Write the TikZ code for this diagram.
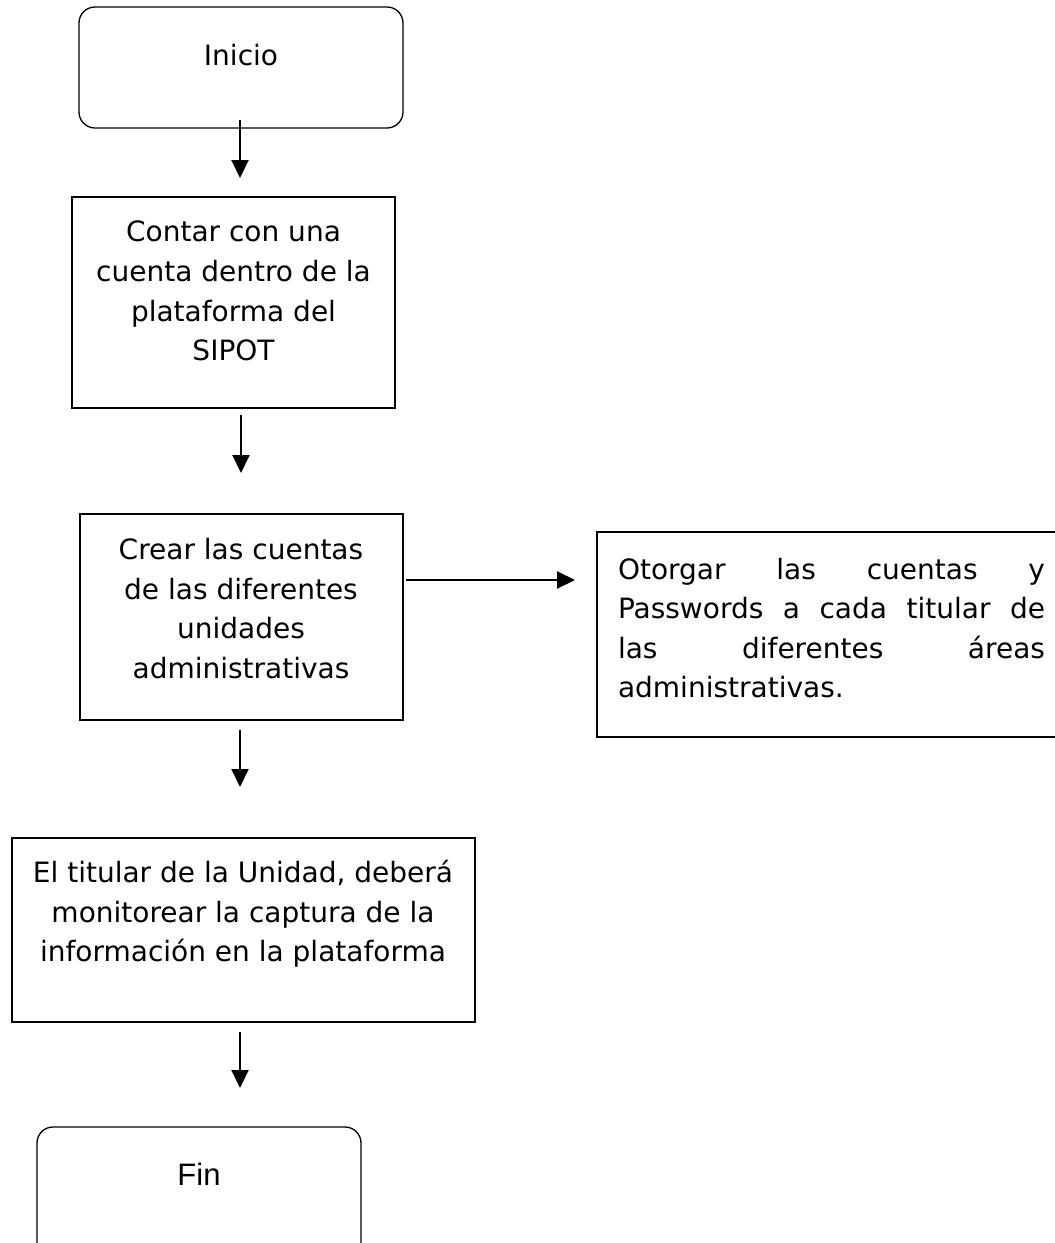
\documentclass[tikz,border=0pt]{standalone}
\usepackage{fontspec}
\setmainfont{DejaVu Sans}
\newfontfamily\arialfont{Liberation Sans}
\usetikzlibrary{arrows.meta}
\tikzset{
  box/.style={draw=black, line width=1.3pt, inner sep=0pt, outer sep=0pt, anchor=north west},
  roundbox/.style={box, rounded corners=16pt},
  txt/.style={inner sep=0pt, outer sep=0pt, align=center, font=\fontsize{28}{39.6}\selectfont},
  arr/.style={line width=2pt, -{Triangle[width=17pt,length=18pt]}}
}
\begin{document}
\begin{tikzpicture}[x=1pt,y=-1pt]
\useasboundingbox (0,0) rectangle (1055,1243);
% boxes
\node[roundbox, minimum width=324pt, minimum height=121pt] (b1) at (79,7) {};
\node[box, minimum width=323pt, minimum height=211pt] (b2) at (72,197) {};
\node[box, minimum width=323pt, minimum height=206pt] (b3) at (80,514) {};
\node[box, minimum width=470pt, minimum height=205pt] (b4) at (597,532) {};
\node[box, minimum width=463pt, minimum height=184pt] (b5) at (12,838) {};
\node[roundbox, minimum width=324pt, minimum height=135pt] (b6) at (37,1127) {};
% texts
\node[txt, anchor=base] (t1) at (241,65) {Inicio};
\node[txt] (t2) at (233.5,291) {Contar con una\\cuenta dentro de la\\plataforma del\\SIPOT};
\node[txt] (t3) at (241,608.5) {Crear las cuentas\\de las diferentes\\unidades\\administrativas};
\node[txt, align=left, anchor=west] (t4) at (618,628) {\makebox[427pt][s]{Otorgar las cuentas y}\\\makebox[427pt][s]{Passwords a cada titular de}\\\makebox[427pt][s]{las diferentes áreas}\\administrativas.};
\node[txt] (t5) at (243,914) {El titular de la Unidad, deberá\\monitorear la captura de la\\información en la plataforma};
\node[txt, anchor=base, font=\arialfont\fontsize{31}{36}\selectfont] (t6) at (199,1185) {Fin};
% connector ends
\coordinate (a1s) at (240,120); \coordinate (a1e) at (240,178);
\coordinate (a2s) at (241,415); \coordinate (a2e) at (241,473);
\coordinate (ahs) at (406,580); \coordinate (ahe) at (575,580);
\coordinate (a3s) at (240,730); \coordinate (a3e) at (240,787);
\coordinate (a4s) at (240,1032); \coordinate (a4e) at (240,1088);
\draw[arr] (a1s) -- (a1e);
\draw[arr] (a2s) -- (a2e);
\draw[arr] (ahs) -- (ahe);
\draw[arr] (a3s) -- (a3e);
\draw[arr] (a4s) -- (a4e);
\end{tikzpicture}
\end{document}
